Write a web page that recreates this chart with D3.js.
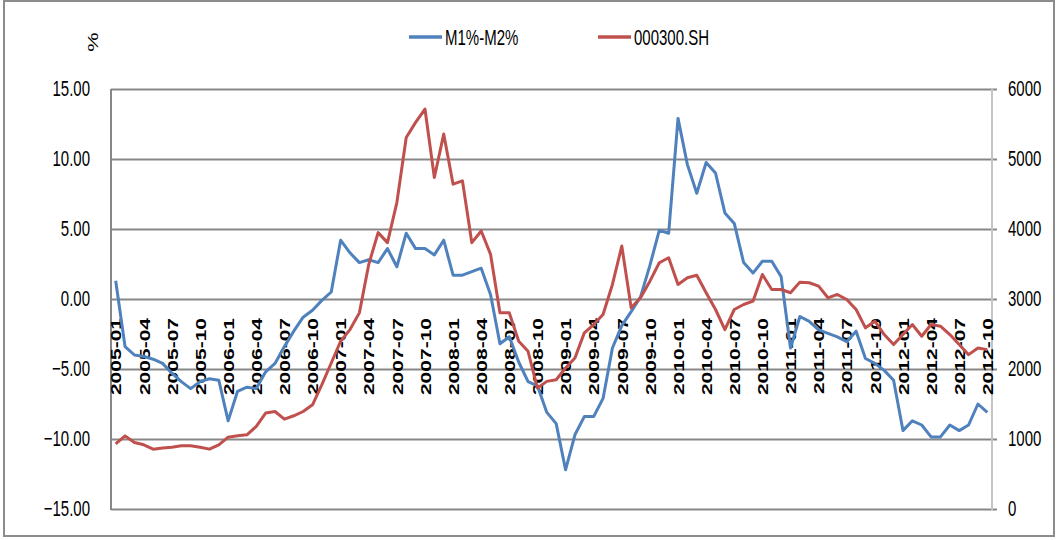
<!DOCTYPE html>
<html>
<head>
<meta charset="utf-8">
<script src="https://cdn.jsdelivr.net/npm/d3@7"></script>
<style>
  body { margin: 0; background: #fff; }
  svg text { font-family: "Liberation Sans", Arial, sans-serif; fill: #000; }
</style>
</head>
<body>
<div id="chart"></div>
<script>
// Monthly categories 2005-01 .. 2012-10
const months = d3.utcMonth
  .range(new Date(Date.UTC(2005, 0, 1)), new Date(Date.UTC(2012, 10, 1)))
  .map(d3.utcFormat("%Y-%m"));

// M1 growth minus M2 growth (left axis, %)
const m1m2 = [
  1.3, -3.4, -4.0, -4.1, -4.3, -4.6, -5.3, -5.9, -6.4, -5.9, -5.7, -5.8,
  -8.7, -6.6, -6.3, -6.4, -5.2, -4.6, -3.4, -2.3, -1.3, -0.8, -0.1, 0.5,
  4.2, 3.3, 2.6, 2.8, 2.6, 3.6, 2.3, 4.7, 3.6, 3.6, 3.15, 4.2,
  1.7, 1.7, 1.95, 2.2, 0.3, -3.2, -2.7, -4.5, -5.9, -6.2, -8.1, -8.9,
  -12.2, -9.7, -8.4, -8.4, -7.1, -3.5, -1.9, -0.9, 0.15, 2.4, 4.9, 4.7,
  12.9, 9.6, 7.55, 9.75, 9.0, 6.15, 5.4, 2.6, 1.85, 2.7, 2.7, 1.6,
  -3.5, -1.25, -1.6, -2.2, -2.45, -2.7, -3.05, -2.3, -4.25, -4.6, -5.1, -5.8,
  -9.4, -8.7, -9.0, -9.85, -9.85, -9.0, -9.4, -9.0, -7.5, -8.1
];

// CSI 300 index close (right axis)
const hs300 = [
  930, 1045, 950, 917, 855, 870, 883, 902, 902, 883, 855, 917,
  1026, 1045, 1060, 1180, 1370, 1393, 1284, 1332, 1393, 1489, 1776, 2086,
  2396, 2563, 2802, 3494, 3948, 3805, 4378, 5308, 5523, 5714, 4735, 5356,
  4640, 4687, 3805, 3972, 3637, 2802, 2802, 2396, 2253, 1728, 1823, 1847,
  2015, 2158, 2516, 2635, 2778, 3208, 3756, 2874, 3017, 3255, 3518, 3590,
  3208, 3303, 3340, 3089, 2850, 2563, 2850, 2921, 2969, 3351, 3136, 3136,
  3089, 3241, 3232, 3184, 3017, 3065, 2993, 2850, 2588, 2683, 2492, 2349,
  2492, 2635, 2468, 2635, 2611, 2492, 2349, 2205, 2301, 2277
];

const leftTicks = [-15, -10, -5, 0, 5, 10, 15];
const rightTicks = [0, 1000, 2000, 3000, 4000, 5000, 6000];
const seriesNames = ["M1%-M2%", "000300.SH"];
const seriesColors = ["#4F81BD", "#C0504D"];

const WIDTH = 1059, HEIGHT = 540;
const PLOT = { left: 111, right: 992, top: 89, bottom: 509 };
const STRETCH = 1.45; // text in the reference is drawn tall and narrow

const svg = d3.select("#chart").append("svg")
  .attr("width", WIDTH)
  .attr("height", HEIGHT);

// outer chart border
svg.append("rect")
  .attr("x", 4).attr("y", 1)
  .attr("width", 1050).attr("height", 535)
  .attr("fill", "none")
  .attr("stroke", "#8c8c8c")
  .attr("stroke-width", 2);

const x = d3.scalePoint().domain(months).range([PLOT.left, PLOT.right]).padding(0.5);
const yL = d3.scaleLinear().domain([-15, 15]).range([PLOT.bottom, PLOT.top]);
const yR = d3.scaleLinear().domain([0, 6000]).range([PLOT.bottom, PLOT.top]);

// horizontal gridlines (extend a little past the right axis like tick marks)
svg.append("g")
  .attr("transform", `translate(${PLOT.left},0)`)
  .call(d3.axisLeft(yL).tickValues(leftTicks).tickSize(-(PLOT.right - PLOT.left + 5)).tickFormat(""))
  .call(g => g.select(".domain").remove())
  .call(g => g.selectAll("line").attr("stroke", "#878787").attr("stroke-width", 2));

// vertical axis lines
svg.append("line")
  .attr("x1", PLOT.left).attr("x2", PLOT.left)
  .attr("y1", PLOT.top).attr("y2", PLOT.bottom + 1)
  .attr("stroke", "#878787").attr("stroke-width", 2);
svg.append("line")
  .attr("x1", PLOT.right).attr("x2", PLOT.right)
  .attr("y1", PLOT.top).attr("y2", PLOT.bottom + 1)
  .attr("stroke", "#c4c4c4").attr("stroke-width", 2);

// left axis labels
svg.append("g")
  .attr("transform", `translate(${PLOT.left},0)`)
  .call(d3.axisLeft(yL).tickValues(leftTicks).tickSize(0).tickPadding(21).tickFormat(d3.format(".2f")))
  .call(g => g.select(".domain").remove())
  .call(g => g.selectAll("text")
    .attr("font-size", 15)
    .attr("font-family", null)
    .attr("transform", `scale(1,${STRETCH})`));

// right axis labels
svg.append("g")
  .attr("transform", `translate(${PLOT.right},0)`)
  .call(d3.axisRight(yR).tickValues(rightTicks).tickSize(0).tickPadding(16).tickFormat(d3.format("d")))
  .call(g => g.select(".domain").remove())
  .call(g => g.selectAll("text")
    .attr("font-size", 15)
    .attr("font-family", null)
    .attr("transform", `scale(1,${STRETCH})`));

// category axis, crossing at 0 of the left axis, labels every 3 months
svg.append("g")
  .attr("transform", `translate(0,${yL(0)})`)
  .call(d3.axisBottom(x).tickValues(months.filter((d, i) => i % 3 === 0)).tickSize(0))
  .call(g => g.select(".domain").remove())
  .call(g => g.selectAll("text")
    .attr("font-size", 14.5)
    .attr("font-weight", "bold")
    .attr("font-family", null)
    .attr("x", 0).attr("y", 0).attr("dy", "0.36em")
    .attr("text-anchor", "end")
    .attr("transform", `translate(0,19) rotate(-90) scale(${STRETCH},1)`));

// lines
const lineL = d3.line().x((d, i) => x(months[i])).y(d => yL(d));
const lineR = d3.line().x((d, i) => x(months[i])).y(d => yR(d));

svg.append("path")
  .datum(m1m2)
  .attr("d", lineL)
  .attr("fill", "none")
  .attr("stroke", seriesColors[0])
  .attr("stroke-width", 3)
  .attr("stroke-linejoin", "round");

svg.append("path")
  .datum(hs300)
  .attr("d", lineR)
  .attr("fill", "none")
  .attr("stroke", seriesColors[1])
  .attr("stroke-width", 3)
  .attr("stroke-linejoin", "round");

// "%" axis title
svg.append("text")
  .attr("transform", `translate(98,42) rotate(-90) scale(${STRETCH},1)`)
  .attr("text-anchor", "middle")
  .attr("font-size", 15)
  .text("%");

// legend
const legendX = [409, 598];
seriesNames.forEach((name, i) => {
  const g = svg.append("g").attr("transform", `translate(${legendX[i]},37)`);
  g.append("line")
    .attr("x1", 0).attr("x2", 33)
    .attr("stroke", seriesColors[i])
    .attr("stroke-width", 3.5);
  g.append("text")
    .attr("x", 36)
    .attr("dy", "0.35em")
    .attr("font-size", 15)
    .attr("transform", `scale(1,${STRETCH})`)
    .text(name);
});
</script>
</body>
</html>
